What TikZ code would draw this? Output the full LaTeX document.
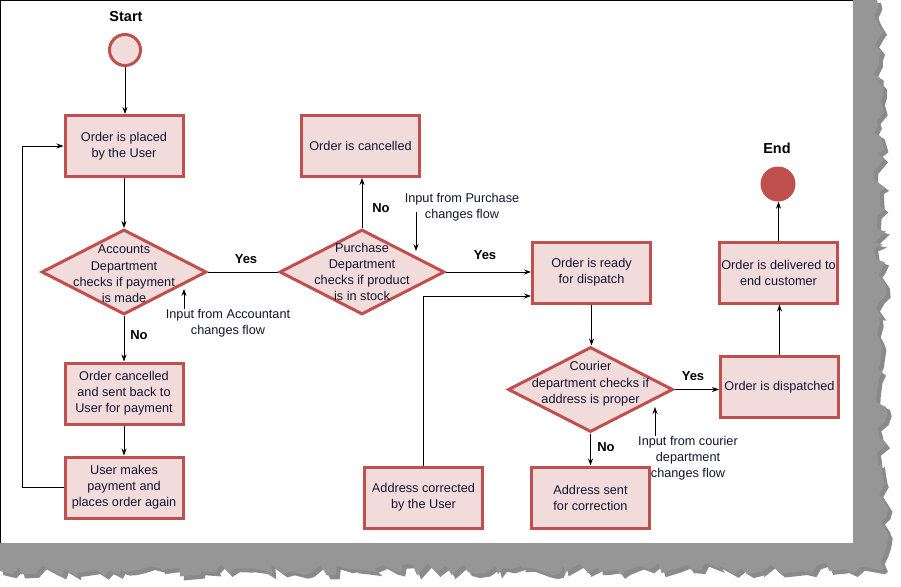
\documentclass[tikz,border=0pt]{standalone}
\usepackage{fontspec}
\setmainfont{Liberation Sans}
\usetikzlibrary{shapes.geometric,arrows.meta,decorations.pathmorphing}
\definecolor{boxfill}{HTML}{F2DCDB}
\definecolor{boxline}{HTML}{C0504D}
\definecolor{txt}{HTML}{141430}
\definecolor{shadowgray}{HTML}{969696}
\begin{document}
\begin{tikzpicture}[x=1pt,y=-1pt,
  box/.style={draw=boxline, fill=boxfill, line width=3pt, minimum width=118pt, minimum height=61pt, inner sep=0pt, align=center, text=txt, font=\fontsize{12.7}{16}\selectfont},
  dia/.style={draw=boxline, fill=boxfill, line width=3pt, diamond, minimum width=165pt, minimum height=85pt, inner sep=0pt},
  dtext/.style={align=center, text=txt, font=\fontsize{12.7}{16.3}\selectfont, inner sep=0pt},
  arr/.style={-{Stealth[length=7pt,width=5pt]}, line width=0.8pt, black},
  ln/.style={line width=0.8pt, black},
  lab/.style={font=\bfseries\fontsize{13}{15}\selectfont, text=black},
  biglab/.style={font=\bfseries\fontsize{14.5}{16}\selectfont, text=black},
  note/.style={align=center, text=txt, font=\fontsize{12.7}{16}\selectfont, inner sep=0pt},
  edge/.style={decoration={random steps,segment length=7pt,amplitude=6pt}},
]
\useasboundingbox (0,0) rectangle (901,586);
\fill[white] (0,0) rectangle (901,586);
% torn-paper shadow
\pgfmathsetseed{7}
\fill[black!65, opacity=0.7] (856,3) -- (881,3) decorate[edge] {-- (888,572) -- (3,575)} -- (3,546) -- (856,546) -- cycle;
\pgfmathsetseed{7}
\fill[shadowgray] (853,0) -- (877,0) decorate[edge] {-- (884,568) -- (0,571)} -- (0,543) -- (853,543) -- cycle;
\fill[white] (0,0) rectangle (853,543);
\draw[black, line width=1pt] (0.5,543) -- (0.5,0.5) -- (853,0.5);

% nodes
\node[circle, draw=boxline, fill=boxfill, line width=3pt, minimum size=31pt, inner sep=0pt] (start) at (125,50) {};
\node[biglab] (startlab) at (126,17) {Start};
\node[box] (placed) at (124,146) {Order is placed\\by the User};
\node[dia] (acc) at (124,272) {};
\node[dtext] (acctext) at (124,274) {Accounts\\Department\\checks if payment\\is made};
\node[box] (cancel) at (360.5,146) {Order is cancelled};
\node[dia] (pur) at (362,272) {};
\node[dtext] (purtext) at (362,272) {Purchase\\Department\\checks if product\\is in stock};
\node[box] (ready) at (591.5,272.5) {Order is ready\\for dispatch};
\node[box] (deliv) at (778.5,272.5) {Order is delivered to\\end customer};
\node[circle, fill=boxline, minimum size=35pt, inner sep=0pt] (end) at (778,184) {};
\node[biglab] (endlab) at (777,148) {End};
\node[dia] (cour) at (590.5,389.5) {};
\node[dtext] (courtext) at (590.5,384) {Courier\\department checks if\\address is proper};
\node[box] (disp) at (779.5,387) {Order is dispatched};
\node[box] (sent) at (590.5,497.5) {Address sent\\for correction};
\node[box] (corr) at (423.5,497.5) {Address corrected\\by the User};
\node[box] (back) at (124,393.5) {Order cancelled\\and sent back to\\User for payment};
\node[box] (again) at (124,487.5) {User makes\\payment and\\places order again};

% connectors
\draw[arr] (start.south) -- (start.south |- placed.north);
\draw[arr] (placed.south) -- (acc.north);
\draw[ln] (acc.east) -- (pur.west);
\draw[arr] (pur.north) -- (pur.north |- cancel.south);
\draw[arr] (pur.east) -- (pur.east -| ready.west);
\draw[arr] (corr.north) |- ([yshift=-23.5pt]ready.west);
\draw[arr] (ready.south) -- (ready.south |- cour.north);
\draw[arr] (cour.east) -- (cour.east -| disp.west);
\draw[arr] (cour.south) -- (cour.south |- sent.north);
\draw[arr] (disp.north) -- (disp.north |- deliv.south);
\draw[arr] (deliv.north) -- (deliv.north |- end.south);
\draw[arr] (acc.south) -- (back.north);
\draw[arr] (back.south) -- (again.north);
\draw[arr] (again.west) -- ([xshift=-41pt]again.west) |- (placed.west);

% labels
\node[lab] (yes1) at (246,259) {Yes};
\node[lab] (no1) at (381,208) {No};
\node[lab] (yes2) at (485,255) {Yes};
\node[lab] (yes3) at (693,376) {Yes};
\node[lab] (no2) at (606,447) {No};
\node[lab] (no3) at (139,335) {No};

% notes
\node[note] (n1) at (228,323) {Input from Accountant\\changes flow};
\coordinate (n1tip) at (184,289);
\draw[arr] (n1tip |- n1.north) -- (n1tip);
\node[note] (n2) at (462,207.5) {Input from Purchase\\changes flow};
\coordinate (n2a) at (416,212);
\coordinate (n2b) at (416,251);
\draw[arr] (n2a) -- (n2b);
\node[note] (n3) at (688,458) {Input from courier\\department\\changes flow};
\coordinate (n3tip) at (655,407);
\draw[arr] (n3tip |- n3.north) -- (n3tip);
\end{tikzpicture}
\end{document}
